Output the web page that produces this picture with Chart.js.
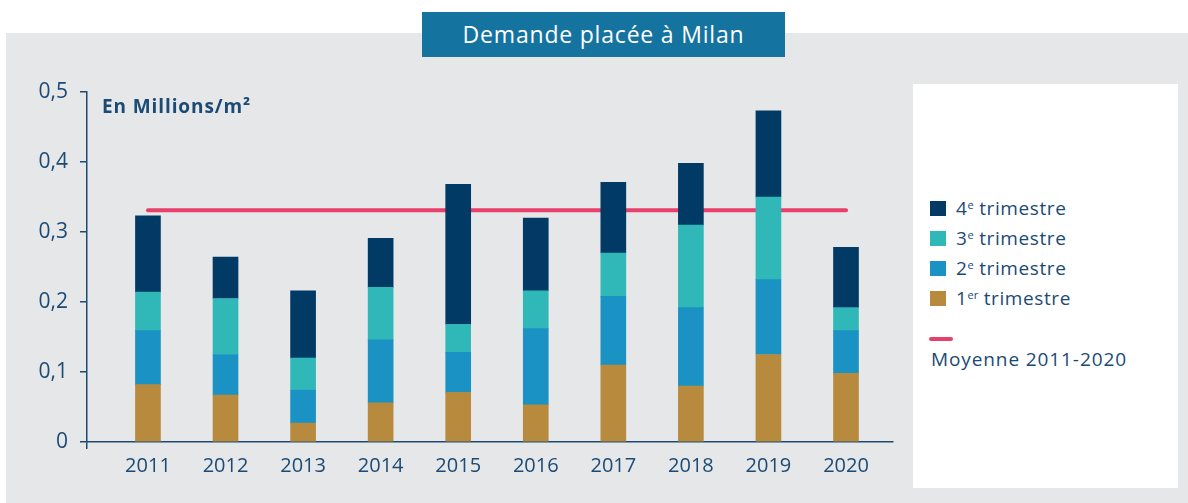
<!DOCTYPE html>
<html>
<head>
<meta charset="utf-8">
<script src="https://cdn.jsdelivr.net/npm/chart.js@4/dist/chart.umd.min.js"></script>
<style>
    body { margin: 0; background: #fff; font-family: "Open Sans", sans-serif; color: #1b4a75; }
    #wrap { position: relative; width: 1188px; height: 503px; overflow: hidden; }
    #panel { position: absolute; left: 6px; top: 33px; width: 1182px; height: 470px; background: #e6e7e9; }
    #title { position: absolute; left: 422px; top: 12px; width: 363px; height: 45px; background: #1573a0;
        color: #fff; font-size: 23px; font-weight: 500; line-height: 45px; text-align: center; letter-spacing: 0.8px; }
    #unit { position: absolute; left: 102px; top: 96px; font-size: 19px; line-height: 20px; font-weight: bold; letter-spacing: 0.9px; }
    #legend-box { position: absolute; left: 913px; top: 84px; width: 265px; height: 404px; background: #fff; }
    .item { position: absolute; left: 930px; font-size: 19px; line-height: 20px; white-space: nowrap; letter-spacing: 0.6px; }
    .item .sq { display: inline-block; width: 16px; height: 15px; margin-right: 10px; vertical-align: -1px; }
    .item sup { font-size: 11px; vertical-align: 6px; line-height: 0; letter-spacing: 0; }
    #mean-key { position: absolute; left: 929px; top: 337px; width: 24px; height: 4px; border-radius: 2px; background: #e8406a; }
    #mean-label { position: absolute; left: 931px; top: 347px; font-size: 19px; line-height: 24px; letter-spacing: 0.9px; }
    canvas { position: absolute; left: 0; top: 0; }
</style>
</head>
<body>
<div id="wrap">
    <div id="panel"></div>
    <div id="title">Demande placée à Milan</div>
    <div id="legend-box"></div>
    <div class="item" style="top:198px"><span class="sq" style="background:#023a66"></span>4<sup>e</sup> trimestre</div>
    <div class="item" style="top:228px"><span class="sq" style="background:#30b7b8"></span>3<sup>e</sup> trimestre</div>
    <div class="item" style="top:258px"><span class="sq" style="background:#1a93c4"></span>2<sup>e</sup> trimestre</div>
    <div class="item" style="top:288px"><span class="sq" style="background:#b78a3e"></span>1<sup>er</sup> trimestre</div>
    <div id="mean-key"></div>
    <div id="mean-label">Moyenne 2011-2020</div>
    <canvas id="chart" width="1188" height="503"></canvas>
    <div id="unit">En Millions/m²</div>
</div>
<script>
    // Données (millions de m²)
    const years = ["2011", "2012", "2013", "2014", "2015", "2016", "2017", "2018", "2019", "2020"];
    const q1 = [0.082, 0.067, 0.027, 0.056, 0.071, 0.053, 0.110, 0.080, 0.125, 0.098];
    const q2 = [0.077, 0.058, 0.047, 0.090, 0.057, 0.109, 0.098, 0.112, 0.107, 0.061];
    const q3 = [0.055, 0.080, 0.046, 0.075, 0.040, 0.054, 0.062, 0.118, 0.118, 0.033];
    const q4 = [0.109, 0.059, 0.096, 0.070, 0.200, 0.104, 0.101, 0.088, 0.123, 0.086];
    const moyenne = 0.331;

    const textColor = "#1b4a75";
    const axisColor = "#1d4a72";

    const toPoints = (arr) => arr.map((v, i) => ({ x: i, y: v }));

    function barSet(label, data, color) {
        return {
            type: "bar",
            label: label,
            data: toPoints(data),
            backgroundColor: color,
            borderWidth: 0,
            barThickness: 25,
            stack: "q"
        };
    }

    new Chart(document.getElementById("chart"), {
        data: {
            datasets: [
                barSet("1er trimestre", q1, "#b78a3e"),
                barSet("2e trimestre", q2, "#1a93c4"),
                barSet("3e trimestre", q3, "#30b7b8"),
                barSet("4e trimestre", q4, "#023a66"),
                {
                    type: "line",
                    label: "Moyenne 2011-2020",
                    data: [{ x: 0, y: moyenne }, { x: years.length - 1, y: moyenne }],
                    borderColor: "#e8406a",
                    borderWidth: 4,
                    borderCapStyle: "round",
                    pointRadius: 0,
                    stack: "moyenne"
                }
            ]
        },
        options: {
            responsive: false,
            animation: false,
            layout: { padding: { top: 92, right: 295, left: 0, bottom: 0 } },
            plugins: { legend: { display: false }, tooltip: { enabled: false } },
            scales: {
                x: {
                    type: "linear",
                    min: -0.786,
                    max: 9.606,
                    offset: false,
                    stacked: true,
                    afterFit: (s) => { s.height = 61; },
                    // un repère à gauche + une étiquette par année
                    afterBuildTicks: (s) => {
                        s.ticks = [{ value: s.min }].concat(years.map((y, i) => ({ value: i })));
                    },
                    border: { color: axisColor, width: 1.5 },
                    grid: {
                        offset: false,
                        drawOnChartArea: false,
                        tickLength: 7,
                        lineWidth: 1.5,
                        color: (ctx) => (ctx.tick && ctx.tick.value < 0 ? axisColor : "rgba(0,0,0,0)")
                    },
                    ticks: {
                        autoSkip: false,
                        maxRotation: 0,
                        padding: 5,
                        color: textColor,
                        font: { family: "Open Sans", size: 20 },
                        callback: (v) => (Number.isInteger(v) && years[v] ? years[v] : "")
                    }
                },
                y: {
                    stacked: true,
                    min: 0,
                    max: 0.5,
                    afterFit: (s) => { s.width = 87; },
                    border: { color: axisColor, width: 1.5 },
                    grid: { drawOnChartArea: false, tickLength: 7, lineWidth: 1.5, color: axisColor },
                    ticks: {
                        stepSize: 0.1,
                        padding: 12,
                        color: textColor,
                        font: { family: "Open Sans", size: 21 },
                        callback: (v) => (v === 0 ? "0" : v.toFixed(1).replace(".", ","))
                    }
                }
            }
        }
    });
</script>
</body>
</html>
